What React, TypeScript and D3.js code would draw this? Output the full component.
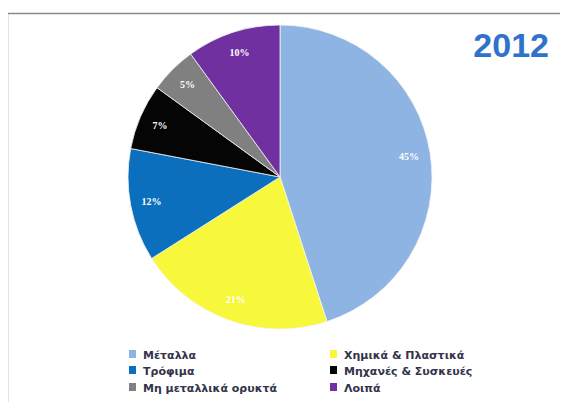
import * as d3 from "d3";
import { useEffect, useRef } from "react";

const categories = [
  "Μέταλλα",
  "Χημικά & Πλαστικά",
  "Τρόφιμα",
  "Μηχανές & Συσκευές",
  "Μη μεταλλικά ορυκτά",
  "Λοιπά",
];
const values = [45, 21, 12, 7, 5, 10];
const colors = ["#8db4e2", "#f7f73c", "#0b6fbd", "#050505", "#808080", "#7030a0"];
// legend order: two columns, read row by row
const legendOrder = [0, 1, 2, 3, 4, 5];
const title = "2012";

export default function App() {
  const ref = useRef(null);

  useEffect(() => {
    var width = 568;
    var height = 410;
    var cx = 280;
    var cy = 177;
    var radius = 152;

    var svg = d3
      .select(ref.current)
      .append("svg")
      .attr("width", width)
      .attr("height", height)
      .style("display", "block")
      .style("background", "#fff");

    // chart frame
    svg
      .append("path")
      .attr("d", "M7.5," + height + " V13.5 H" + width)
      .attr("fill", "none")
      .attr("stroke", "#8a8a8a")
      .attr("stroke-width", 1.5);

    var data = categories.map((c, i) => ({ key: c, value: values[i], color: colors[i] }));

    var pie = d3
      .pie<any>()
      .sort(null)
      .value((d: any) => d.value);
    var slices = pie(data);

    var arc = d3.arc<any>().innerRadius(0).outerRadius(radius);
    var labelArc = d3
      .arc<any>()
      .innerRadius(radius * 0.86)
      .outerRadius(radius * 0.86);

    var g = svg.append("g").attr("transform", "translate(" + cx + "," + cy + ")");

    g.selectAll("path.slice")
      .data(slices)
      .enter()
      .append("path")
      .attr("class", "slice")
      .attr("d", arc as any)
      .attr("fill", (d: any) => d.data.color)
      .attr("stroke", "#f4f4f4")
      .attr("stroke-width", 0.8);

    g.selectAll("text.lbl")
      .data(slices)
      .enter()
      .append("text")
      .attr("class", "lbl")
      .attr("transform", (d: any) => "translate(" + labelArc.centroid(d) + ")")
      .attr("text-anchor", "middle")
      .attr("dy", "0.35em")
      .attr("fill", "#fff")
      .attr("font-family", "Liberation Serif, serif")
      .attr("font-weight", "bold")
      .attr("font-size", 10)
      .text((d: any) => d.data.value + "%");

    svg
      .append("text")
      .attr("x", 549)
      .attr("y", 57)
      .attr("text-anchor", "end")
      .attr("fill", "#2f72cc")
      .attr("font-family", "Liberation Sans, Arial, sans-serif")
      .attr("font-weight", "bold")
      .attr("font-size", 34)
      .text(title);

    // legend
    var legend = svg.append("g");
    var colX = [129, 330];
    var rowY = [355, 371, 388];
    legendOrder.forEach((idx, k) => {
      var x = colX[k % 2];
      var y = rowY[Math.floor(k / 2)];
      var item = legend.append("g").attr("transform", "translate(" + x + "," + y + ")");
      item
        .append("rect")
        .attr("x", 0)
        .attr("y", -5)
        .attr("width", 7)
        .attr("height", 8)
        .attr("fill", colors[idx]);
      item
        .append("text")
        .attr("x", 14)
        .attr("y", 3.5)
        .attr("fill", "#33334a")
        .attr("font-family", "DejaVu Sans, sans-serif")
        .attr("font-weight", "bold")
        .attr("font-size", 11)
        .text(categories[idx]);
    });

    return function () {
      svg.remove();
    };
  }, []);

  return <div ref={ref} style={{ margin: -8 }} />;
}
